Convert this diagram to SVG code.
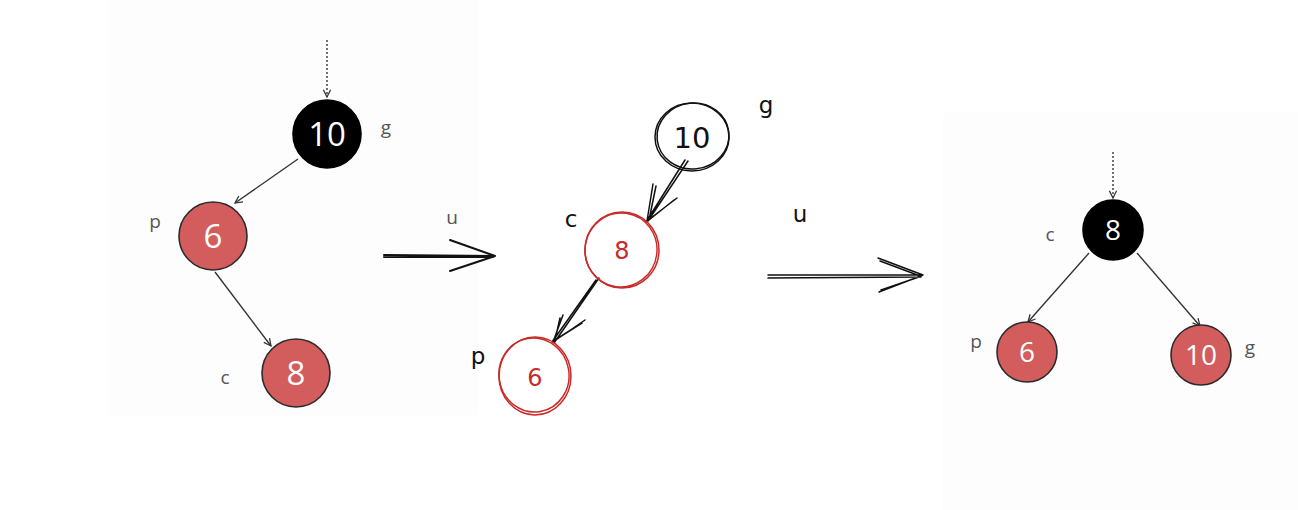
<svg xmlns="http://www.w3.org/2000/svg" width="1298" height="510" viewBox="0 0 1298 510">
<style>
.bg{fill:#fdfdfd}
.red{fill:#d35d5d;stroke:#2b2b2b;stroke-width:1.6}
.blk{fill:#000;stroke:#000;stroke-width:1.6}
.num{font-family:"Open Sans","Liberation Sans",sans-serif;fill:#fff;text-anchor:middle}
.lbl{font-family:"Open Sans","Liberation Sans",sans-serif;fill:#555;font-size:19px;text-anchor:middle}
.edge{stroke:#333;stroke-width:1.4;fill:none}
.dot{stroke:#333;stroke-width:1.4;fill:none;stroke-dasharray:2 2}
.sk{fill:none;stroke-linecap:round;stroke-linejoin:round}
.skb{stroke:#111;stroke-width:1.5}
.skr{stroke:#c92a2a;stroke-width:1.5}
.hand{font-family:"DejaVu Sans",sans-serif;text-anchor:middle}
</style>
<defs>
<marker id="ah" viewBox="0 0 10 10" refX="9" refY="5" markerWidth="9" markerHeight="9" orient="auto" markerUnits="userSpaceOnUse">
<path d="M1,1 L9,5 L1,9" fill="none" stroke="#333" stroke-width="1.4"/>
</marker>
</defs>
<rect class="bg" x="108" y="0" width="370" height="415"/>
<rect class="bg" x="943" y="113" width="355" height="397"/>

<g id="connectors">
<line class="dot" x1="327" y1="40" x2="327" y2="97" marker-end="url(#ah)"/>
<line class="edge" x1="298" y1="159" x2="235" y2="203" marker-end="url(#ah)"/>
<line class="edge" x1="215" y1="272" x2="271" y2="346" marker-end="url(#ah)"/>
<line class="dot" x1="1113" y1="152" x2="1113" y2="198" marker-end="url(#ah)"/>
<line class="edge" x1="1089" y1="253" x2="1028" y2="322" marker-end="url(#ah)"/>
<line class="edge" x1="1137" y1="253" x2="1200" y2="326" marker-end="url(#ah)"/>
<g class="sk skb">
<path d="M685,160 L646,222 M688,161 L648,221 M653,184 L647,221 L677,198 M656,186 L649,220 L674,200"/>
<path d="M599,278 L554,343 M596,280 L552,342 M563,315 L553,342 L585,320 M560,318 L555,340 L582,323"/>
<path d="M384,255 L495,256 M384,257 L493,257 M450,240 L495,256 L450,271" stroke-width="2"/>
<path d="M768,275 L923,275 M768,278 L921,277 M878,258 L923,275 L879,292 M880,261 L920,276 M881,290 L919,277"/>
</g>
</g>

<g id="n-left-10">
<circle class="blk" cx="327" cy="134" r="34"/>
<text class="num" x="327" y="146" font-size="33">10</text>
<text class="lbl" x="386" y="134">g</text>
</g>
<g id="n-left-6">
<circle class="red" cx="213" cy="236" r="34"/>
<text class="num" x="213" y="248" font-size="33">6</text>
<text class="lbl" x="155" y="228">p</text>
</g>
<g id="n-left-8">
<circle class="red" cx="296" cy="373" r="34"/>
<text class="num" x="296" y="385" font-size="33">8</text>
<text class="lbl" x="225" y="384">c</text>
</g>
<text class="lbl" x="452" y="224">u</text>

<g id="n-mid-10">
<ellipse class="sk skb" cx="692" cy="137" rx="37" ry="34"/>
<ellipse class="sk skb" cx="693" cy="136" rx="36" ry="33" transform="rotate(-6 693 136)"/>
<text class="hand" x="692" y="148" font-size="29" fill="#111">10</text>
<text class="hand" x="766" y="113" font-size="23" fill="#111">g</text>
</g>
<g id="n-mid-8">
<ellipse class="sk skr" cx="622" cy="250" rx="37" ry="38"/>
<ellipse class="sk skr" cx="621" cy="250" rx="36" ry="37" transform="rotate(8 621 250)"/>
<text class="hand" x="622" y="259" font-size="24" fill="#c92a2a">8</text>
<text class="hand" x="571" y="227" font-size="23" fill="#111">c</text>
</g>
<g id="n-mid-6">
<ellipse class="sk skr" cx="535" cy="376" rx="36" ry="39"/>
<ellipse class="sk skr" cx="534" cy="375" rx="35" ry="37" transform="rotate(-10 534 375)"/>
<text class="hand" x="535" y="386" font-size="24" fill="#c92a2a">6</text>
<text class="hand" x="478" y="364" font-size="23" fill="#111">p</text>
</g>
<text class="hand" x="800" y="222" font-size="23" fill="#111">u</text>

<g id="n-right-8">
<circle class="blk" cx="1113" cy="230" r="30"/>
<text class="num" x="1113" y="240" font-size="28">8</text>
<text class="lbl" x="1050" y="241">c</text>
</g>
<g id="n-right-6">
<circle class="red" cx="1027" cy="352" r="30"/>
<text class="num" x="1027" y="362" font-size="28">6</text>
<text class="lbl" x="976" y="348">p</text>
</g>
<g id="n-right-10">
<circle class="red" cx="1201" cy="355" r="30"/>
<text class="num" x="1201" y="365" font-size="28">10</text>
<text class="lbl" x="1250" y="354">g</text>
</g>
</svg>
